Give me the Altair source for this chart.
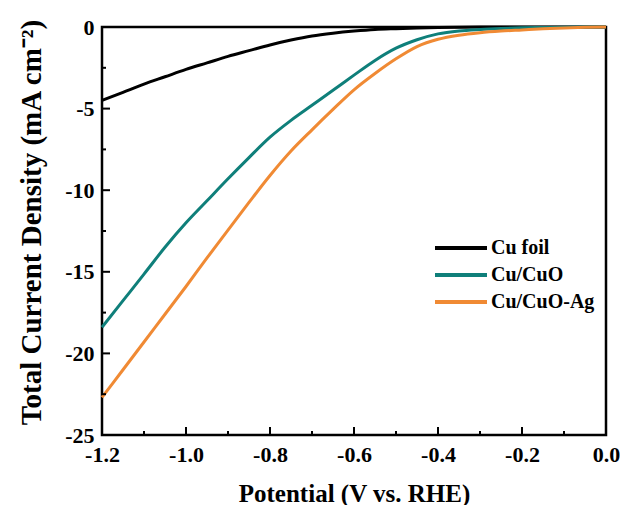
import altair as alt
import pandas as pd

# ---- data ----
potential = [-1.20, -1.15, -1.10, -1.05, -1.00, -0.95, -0.90, -0.85, -0.80, -0.75,
             -0.70, -0.65, -0.60, -0.55, -0.50, -0.45, -0.40, -0.35, -0.30, -0.25,
             -0.20, -0.15, -0.10, -0.05, 0.00]
cu_foil = [-4.50, -4.00, -3.50, -3.05, -2.60, -2.20, -1.80, -1.45, -1.10, -0.80,
           -0.55, -0.38, -0.25, -0.15, -0.10, -0.06, -0.03, -0.01, 0.00, 0.00,
           0.00, 0.00, 0.00, 0.00, 0.00]
cu_cuo = [-18.40, -16.77, -15.14, -13.50, -12.00, -10.65, -9.30, -8.00, -6.75, -5.72,
          -4.80, -3.88, -2.95, -2.05, -1.30, -0.78, -0.42, -0.24, -0.15, -0.09,
          -0.05, -0.03, -0.01, 0.00, 0.00]
cu_cuo_ag = [-22.70, -21.00, -19.30, -17.60, -15.90, -14.15, -12.45, -10.75, -9.10, -7.60,
             -6.30, -5.05, -3.85, -2.85, -1.95, -1.20, -0.75, -0.50, -0.35, -0.25,
             -0.18, -0.11, -0.06, -0.02, 0.00]

series_names = ["Cu foil", "Cu/CuO", "Cu/CuO-Ag"]
series_colors = ["#000000", "#0f7f7a", "#f08a34"]

x_major = [-1.2, -1.0, -0.8, -0.6, -0.4, -0.2, 0.0]
x_minor = [-1.1, -0.9, -0.7, -0.5, -0.3, -0.1]
y_major = [0, -5, -10, -15, -20, -25]
y_minor = [-2.5, -7.5, -12.5, -17.5, -22.5]

# ---- build table ----
rows = []
for name, vals in zip(series_names, [cu_foil, cu_cuo, cu_cuo_ag]):
    for p, c in zip(potential, vals):
        rows.append({"potential": p, "current": c, "series": name})
df = pd.DataFrame(rows)

W, H = 504, 408
FONT = "Liberation Serif"

xscale = alt.Scale(domain=[-1.2, 0.0], nice=False, zero=False)
yscale = alt.Scale(domain=[-25, 0], nice=False, zero=False)

xaxis = alt.Axis(
    values=x_major,
    title="Potential (V vs. RHE)",
    labelExpr="datum.value == 0 ? '0.0' : '-' + format(-datum.value, '.1f')",
    labelFont=FONT,
    labelFontSize=22,
    labelFontWeight="bold",
    labelColor="black",
    labelFlush=False,
    labelPadding=9,
    titleFont=FONT,
    titleFontSize=25,
    titleFontWeight="bold",
    titleColor="black",
    titleY=58,
    titleBaseline="middle",
)
yaxis = alt.Axis(
    values=y_major,
    title="Total Current Density (mA cm\u207b\u00b2)",
    labelExpr="datum.value == 0 ? '0' : '-' + format(-datum.value, 'd')",
    labelFont=FONT,
    labelFontSize=22,
    labelFontWeight="bold",
    labelColor="black",
    labelFlush=False,
    labelPadding=8,
    titleFont=FONT,
    titleFontSize=29,
    titleFontWeight="bold",
    titleColor="black",
    titleX=-71,
    titleY=195,
    titleAngle=-90,
    titleAlign="center",
    titleBaseline="middle",
)

lines = alt.Chart(df).mark_line(strokeWidth=3, interpolate="monotone").encode(
    x=alt.X("potential:Q", scale=xscale, axis=xaxis),
    y=alt.Y("current:Q", scale=yscale, axis=yaxis),
    color=alt.Color(
        "series:N",
        scale=alt.Scale(domain=series_names, range=series_colors),
        legend=alt.Legend(
            title=None,
            orient="none",
            legendX=347,
            legendY=209,
            symbolType="M-2.6,0H2.6",
            symbolSize=400,
            symbolStrokeWidth=4,
            labelOffset=18,
            rowPadding=5,
            padding=0,
            labelFont=FONT,
            labelFontSize=20,
            labelFontWeight="bold",
            labelColor="black",
        ),
    ),
    order=alt.Order("potential:Q"),
)

def xticks(vals, length):
    d = pd.DataFrame({"potential": vals})
    return alt.Chart(d).mark_rule(color="black", strokeWidth=2).encode(
        x=alt.X("potential:Q", scale=xscale),
        y=alt.value(H),
        y2=alt.value(H - length),
    )

def yticks(vals, length):
    d = pd.DataFrame({"current": vals})
    return alt.Chart(d).mark_rule(color="black", strokeWidth=2).encode(
        y=alt.Y("current:Q", scale=yscale),
        x=alt.value(0),
        x2=alt.value(length),
    )

chart = alt.layer(
    lines,
    xticks(x_major, 8), xticks(x_minor, 4),
    yticks(y_major, 8), yticks(y_minor, 4),
).properties(
    width=W,
    height=H,
    autosize=alt.AutoSizeParams(type="none"),
    padding={"left": 94, "top": 19, "right": 14, "bottom": 70},
).configure_view(
    stroke="black",
    strokeWidth=2.5,
).configure_axis(
    domain=False,
    ticks=False,
    grid=False,
)

chart.save("out.html", embed_options={"renderer": "svg", "actions": False})
